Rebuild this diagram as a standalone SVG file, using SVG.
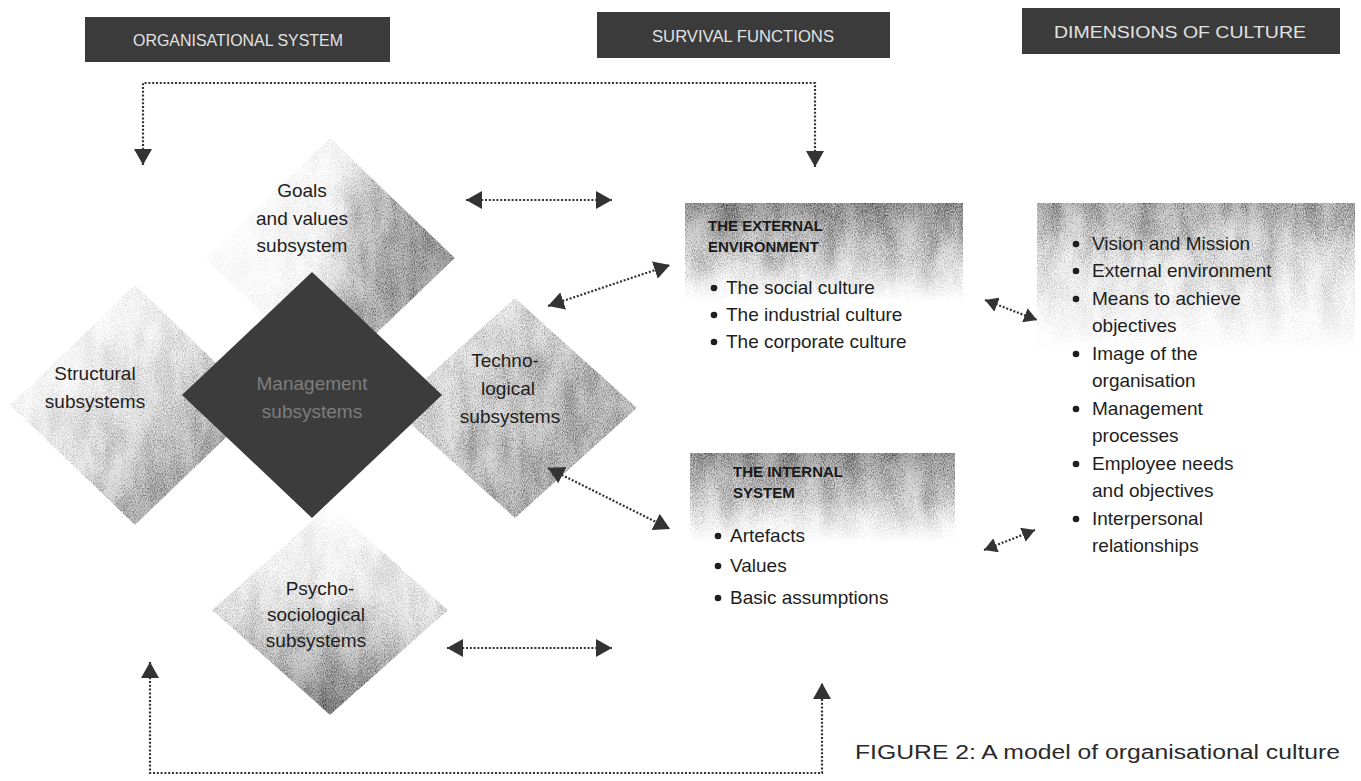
<svg xmlns="http://www.w3.org/2000/svg" width="1361" height="781" viewBox="0 0 1361 781">
<style>
  .hdr { fill: #3b3b3b; }
  .hdrtxt { font-family: "Liberation Sans", Arial, sans-serif; font-size: 17px; fill: #e2e2e2; text-anchor: middle; }
  .lbl { font-family: "Liberation Sans", Arial, sans-serif; font-size: 19px; fill: #1e1e1e; }
  .mid { text-anchor: middle; }
  .ttl { font-family: "Liberation Sans", Arial, sans-serif; font-size: 15px; font-weight: bold; fill: #1a1a1a; }
  .mgmt { font-family: "Liberation Sans", Arial, sans-serif; font-size: 19px; fill: #7c7c7c; text-anchor: middle; }
  .dot { fill: none; stroke: #333; stroke-width: 2.2; stroke-dasharray: 2 1.8; }
  .bul { fill: #1e1e1e; }
  .cap { font-family: "Liberation Sans", Arial, sans-serif; font-size: 20px; fill: #2a2a2a; }
</style>
<defs>
  <marker id="ah" viewBox="0 0 16 18" refX="16" refY="9" markerWidth="16" markerHeight="18" orient="auto-start-reverse" markerUnits="userSpaceOnUse">
    <path d="M0,0 L16,9 L0,18 z" fill="#333"/>
  </marker>
  <marker id="ahs" viewBox="0 0 13 15" refX="13" refY="7.5" markerWidth="13" markerHeight="15" orient="auto-start-reverse" markerUnits="userSpaceOnUse">
    <path d="M0,0 L13,7.5 L0,15 z" fill="#333"/>
  </marker>
  <filter id="grain" x="-5%" y="-5%" width="110%" height="110%" color-interpolation-filters="sRGB">
    <feTurbulence type="fractalNoise" baseFrequency="0.9 0.6" numOctaves="2" seed="7" result="fine"/>
    <feColorMatrix in="fine" type="matrix" values="0.33 0.33 0.33 0 0  0.33 0.33 0.33 0 0  0.33 0.33 0.33 0 0  0 0 0 0 1" result="fg"/>
    <feTurbulence type="fractalNoise" baseFrequency="0.05 0.02" numOctaves="3" seed="11" result="coarse"/>
    <feColorMatrix in="coarse" type="matrix" values="0.33 0.33 0.33 0 0  0.33 0.33 0.33 0 0  0.33 0.33 0.33 0 0  0 0 0 0 1" result="cg"/>
    <feComposite in="fg" in2="cg" operator="arithmetic" k1="0" k2="1.3" k3="0.7" k4="-0.5" result="sum"/>
    <feComponentTransfer in="sum" result="g2">
      <feFuncR type="linear" slope="2" intercept="-0.2"/>
      <feFuncG type="linear" slope="2" intercept="-0.2"/>
      <feFuncB type="linear" slope="2" intercept="-0.2"/>
      <feFuncA type="linear" slope="0" intercept="1"/>
    </feComponentTransfer>
    <feBlend in="SourceGraphic" in2="g2" mode="multiply" result="b"/>
    <feComposite in="b" in2="SourceGraphic" operator="in"/>
  </filter>
  <linearGradient id="gDiag" x1="0.1" y1="0.1" x2="0.9" y2="0.9">
    <stop offset="0" stop-color="#a0a0a0" stop-opacity="0.05"/>
    <stop offset="0.45" stop-color="#999999" stop-opacity="0.35"/>
    <stop offset="1" stop-color="#7e7e7e" stop-opacity="0.9"/>
  </linearGradient>
  <linearGradient id="gHoriz" x1="0" y1="0.4" x2="1" y2="0.6">
    <stop offset="0" stop-color="#a0a0a0" stop-opacity="0.04"/>
    <stop offset="0.45" stop-color="#a0a0a0" stop-opacity="0.18"/>
    <stop offset="0.58" stop-color="#8e8e8e" stop-opacity="0.6"/>
    <stop offset="1" stop-color="#808080" stop-opacity="0.85"/>
  </linearGradient>
  <linearGradient id="gDown" x1="0" y1="0" x2="0" y2="1">
    <stop offset="0" stop-color="#a0a0a0" stop-opacity="0.05"/>
    <stop offset="0.45" stop-color="#999999" stop-opacity="0.35"/>
    <stop offset="1" stop-color="#757575" stop-opacity="0.9"/>
  </linearGradient>
  <linearGradient id="gTech" x1="0" y1="0" x2="1" y2="1">
    <stop offset="0" stop-color="#a8a8a8" stop-opacity="0.2"/>
    <stop offset="0.5" stop-color="#9a9a9a" stop-opacity="0.6"/>
    <stop offset="1" stop-color="#8a8a8a" stop-opacity="0.8"/>
  </linearGradient>
  <linearGradient id="gBand" x1="0" y1="0" x2="0" y2="1">
    <stop offset="0" stop-color="#8c8c8c" stop-opacity="0.85"/>
    <stop offset="0.55" stop-color="#a8a8a8" stop-opacity="0.55"/>
    <stop offset="1" stop-color="#c0c0c0" stop-opacity="0"/>
  </linearGradient>
  <linearGradient id="gBandR" x1="0" y1="0" x2="0" y2="1">
    <stop offset="0" stop-color="#999999" stop-opacity="0.75"/>
    <stop offset="0.35" stop-color="#b0b0b0" stop-opacity="0.45"/>
    <stop offset="1" stop-color="#c0c0c0" stop-opacity="0"/>
  </linearGradient>
</defs>
<rect width="1361" height="781" fill="#ffffff"/>

<g id="header-organisational">
  <rect class="hdr" x="85" y="17" width="305" height="45"/>
  <text class="hdrtxt" x="238" y="46" textLength="210" lengthAdjust="spacingAndGlyphs">ORGANISATIONAL SYSTEM</text>
</g>
<g id="header-survival">
  <rect class="hdr" x="597" y="12" width="293" height="46"/>
  <text class="hdrtxt" x="743" y="42" textLength="182" lengthAdjust="spacingAndGlyphs">SURVIVAL FUNCTIONS</text>
</g>
<g id="header-dimensions">
  <rect class="hdr" x="1022" y="8" width="318" height="46"/>
  <text class="hdrtxt" x="1180" y="38" textLength="252" lengthAdjust="spacingAndGlyphs">DIMENSIONS OF CULTURE</text>
</g>

<g id="goals">
  <polygon points="330,138 455,258 330,378 205,258" fill="url(#gHoriz)" filter="url(#grain)"/>
  <text class="lbl mid" x="302" y="197">Goals</text>
  <text class="lbl mid" x="302" y="225">and values</text>
  <text class="lbl mid" x="302" y="252">subsystem</text>
</g>
<g id="structural">
  <polygon points="135,285 260,405 135,525 10,405" fill="url(#gDiag)" filter="url(#grain)"/>
  <text class="lbl mid" x="95" y="380">Structural</text>
  <text class="lbl mid" x="95" y="408">subsystems</text>
</g>
<g id="technological">
  <polygon points="515,298 637,408 515,518 393,408" fill="url(#gTech)" filter="url(#grain)"/>
  <text class="lbl mid" x="505" y="367">Techno-</text>
  <text class="lbl mid" x="508" y="395">logical</text>
  <text class="lbl mid" x="510" y="423">subsystems</text>
</g>
<g id="psychosociological">
  <polygon points="330,505 448,610 330,715 212,610" fill="url(#gDown)" filter="url(#grain)"/>
  <text class="lbl mid" x="320" y="595">Psycho-</text>
  <text class="lbl mid" x="316" y="621">sociological</text>
  <text class="lbl mid" x="316" y="647">subsystems</text>
</g>
<g id="management">
  <polygon points="312,272 442,395 312,518 182,395" fill="#3c3c3c"/>
  <text class="mgmt" x="312" y="390">Management</text>
  <text class="mgmt" x="312" y="418">subsystems</text>
</g>

<g id="external-environment">
  <rect x="685" y="203" width="278" height="100" fill="url(#gBand)" filter="url(#grain)"/>
  <text class="ttl" x="708" y="231">THE EXTERNAL</text>
  <text class="ttl" x="708" y="252">ENVIRONMENT</text>
  <circle class="bul" cx="714" cy="288" r="3.3"/>
  <text class="lbl" x="726" y="294">The social culture</text>
  <circle class="bul" cx="714" cy="315" r="3.3"/>
  <text class="lbl" x="726" y="321">The industrial culture</text>
  <circle class="bul" cx="714" cy="342" r="3.3"/>
  <text class="lbl" x="726" y="348">The corporate culture</text>
</g>

<g id="internal-system">
  <rect x="690" y="453" width="265" height="90" fill="url(#gBand)" filter="url(#grain)"/>
  <text class="ttl" x="733" y="477">THE INTERNAL</text>
  <text class="ttl" x="733" y="498">SYSTEM</text>
  <circle class="bul" cx="718" cy="536" r="3.3"/>
  <text class="lbl" x="730" y="542">Artefacts</text>
  <circle class="bul" cx="718" cy="566" r="3.3"/>
  <text class="lbl" x="730" y="572">Values</text>
  <circle class="bul" cx="718" cy="598" r="3.3"/>
  <text class="lbl" x="730" y="604">Basic assumptions</text>
</g>

<g id="dimensions">
  <rect x="1037" y="203" width="318" height="150" fill="url(#gBandR)" filter="url(#grain)"/>
  <circle class="bul" cx="1076" cy="244" r="3.3"/>
  <text class="lbl" x="1092" y="250">Vision and Mission</text>
  <circle class="bul" cx="1076" cy="271" r="3.3"/>
  <text class="lbl" x="1092" y="277">External environment</text>
  <circle class="bul" cx="1076" cy="299" r="3.3"/>
  <text class="lbl" x="1092" y="305">Means to achieve</text>
  <text class="lbl" x="1092" y="332">objectives</text>
  <circle class="bul" cx="1076" cy="354" r="3.3"/>
  <text class="lbl" x="1092" y="360">Image of the</text>
  <text class="lbl" x="1092" y="387">organisation</text>
  <circle class="bul" cx="1076" cy="409" r="3.3"/>
  <text class="lbl" x="1092" y="415">Management</text>
  <text class="lbl" x="1092" y="442">processes</text>
  <circle class="bul" cx="1076" cy="464" r="3.3"/>
  <text class="lbl" x="1092" y="470">Employee needs</text>
  <text class="lbl" x="1092" y="497">and objectives</text>
  <circle class="bul" cx="1076" cy="519" r="3.3"/>
  <text class="lbl" x="1092" y="525">Interpersonal</text>
  <text class="lbl" x="1092" y="552">relationships</text>
</g>

<g id="connectors">
  <path class="dot" d="M143,165 V83 H815 V167" marker-start="url(#ah)" marker-end="url(#ah)"/>
  <path class="dot" d="M150,662 V773 H822 V683" marker-start="url(#ah)" marker-end="url(#ah)"/>
  <line class="dot" x1="466" y1="200" x2="612" y2="200" marker-start="url(#ah)" marker-end="url(#ah)"/>
  <line class="dot" x1="548" y1="306" x2="670" y2="265" marker-start="url(#ah)" marker-end="url(#ah)"/>
  <line class="dot" x1="548" y1="468" x2="670" y2="529" marker-start="url(#ah)" marker-end="url(#ah)"/>
  <line class="dot" x1="447" y1="648" x2="612" y2="648" marker-start="url(#ah)" marker-end="url(#ah)"/>
  <line class="dot" x1="985" y1="300" x2="1037" y2="320" marker-start="url(#ahs)" marker-end="url(#ahs)"/>
  <line class="dot" x1="984" y1="550" x2="1035" y2="530" marker-start="url(#ahs)" marker-end="url(#ahs)"/>
</g>

<g id="caption">
  <text class="cap" x="855" y="759" textLength="485" lengthAdjust="spacingAndGlyphs">FIGURE 2: A model of organisational culture</text>
</g>
</svg>
